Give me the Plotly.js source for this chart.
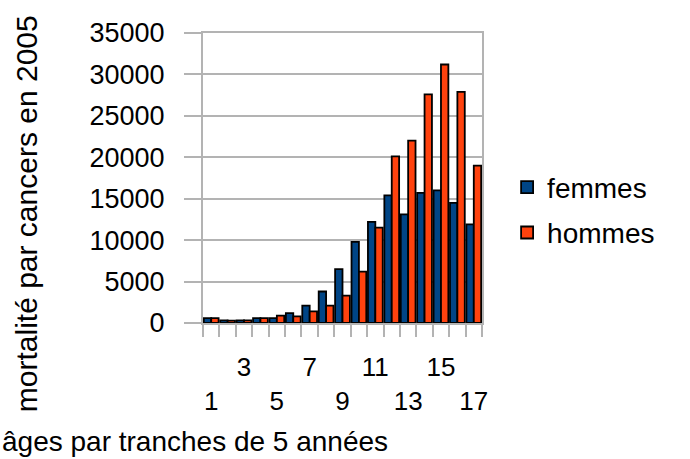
<!DOCTYPE html>
<html>
<head>
<meta charset="utf-8">
<script src="https://cdn.plot.ly/plotly-3.0.1.min.js"></script>
<style>html,body{margin:0;padding:0;background:#fff;}#chart{width:690px;height:459px;}</style>
</head>
<body>
<div id="chart"></div>
<script>
var categories = [1,2,3,4,5,6,7,8,9,10,11,12,13,14,15,16,17];
var femmes = [600,320,320,600,600,1200,2100,3800,6500,9800,12200,15400,13100,15700,16000,14500,11900];
var hommes = [600,280,320,600,900,800,1400,2100,3300,6200,11500,20100,22000,27600,31200,27900,19000];
var tickVals = [1,3,5,7,9,11,13,15,17];
var tickText = ["<br>1","3","<br>5","7","<br>9","11","<br>13","15","<br>17"];
var yTicks = [0,5000,10000,15000,20000,25000,30000,35000];
var yTickText = ["0","5000","10000","15000","20000","25000","30000","35000"];

var font = "Liberation Sans, Arial, sans-serif";
var grid = "#b3b3b3";

var data = [
  {type:"bar", name:"femmes", x:categories, y:femmes, legendgroup:"f",
   marker:{color:"#004586", line:{color:"#000000", width:1.8}}},
  {type:"bar", name:"hommes", x:categories, y:hommes, legendgroup:"h",
   marker:{color:"#ff420e", line:{color:"#000000", width:1.8}}}
];

var layout = {
  width:690, height:459,
  margin:{l:203, r:208, t:33, b:136},
  paper_bgcolor:"#ffffff", plot_bgcolor:"#ffffff",
  font:{family:font, color:"#000000", size:24},
  barmode:"group", bargap:0.1, bargroupgap:0,
  showlegend:true,
  legend:{x:1.09, xanchor:"left", y:0.39, yanchor:"middle", font:{size:28, family:font},
          tracegroupgap:6, bgcolor:"rgba(0,0,0,0)", itemwidth:30},
  xaxis:{range:[0.5,17.5], tickvals:tickVals, ticktext:tickText, ticks:"",
         ticklabelstandoff:20,
         tickfont:{size:26, family:font},
         showgrid:false, zeroline:false, showline:true, linecolor:grid, linewidth:2, mirror:true,
         minor:{tick0:0.5, dtick:1, ticks:"outside", ticklen:12, tickwidth:2, tickcolor:grid, showgrid:false}},
  yaxis:{range:[0,35000], tickvals:yTicks, ticktext:yTickText, ticks:"outside", ticklen:17, tickwidth:2, tickcolor:grid,
         ticklabelstandoff:14,
         tickfont:{size:27, family:font},
         showgrid:true, gridcolor:grid, gridwidth:2, zeroline:false,
         showline:true, linecolor:grid, linewidth:2, mirror:true},
  annotations:[
    {text:"mortalité par cancers en 2005", xref:"paper", yref:"paper", x:-0.63, y:0.376,
     xanchor:"center", yanchor:"middle", textangle:-90, showarrow:false,
     font:{size:30, family:font, color:"#000"}},
    {text:"âges par tranches de 5 années", xref:"paper", yref:"paper", x:-0.03, y:-0.41,
     xanchor:"center", yanchor:"middle", showarrow:false,
     font:{size:28, family:font, color:"#000"}}
  ]
};

Plotly.newPlot("chart", data, layout, {displayModeBar:false, staticPlot:true});
</script>
</body>
</html>
